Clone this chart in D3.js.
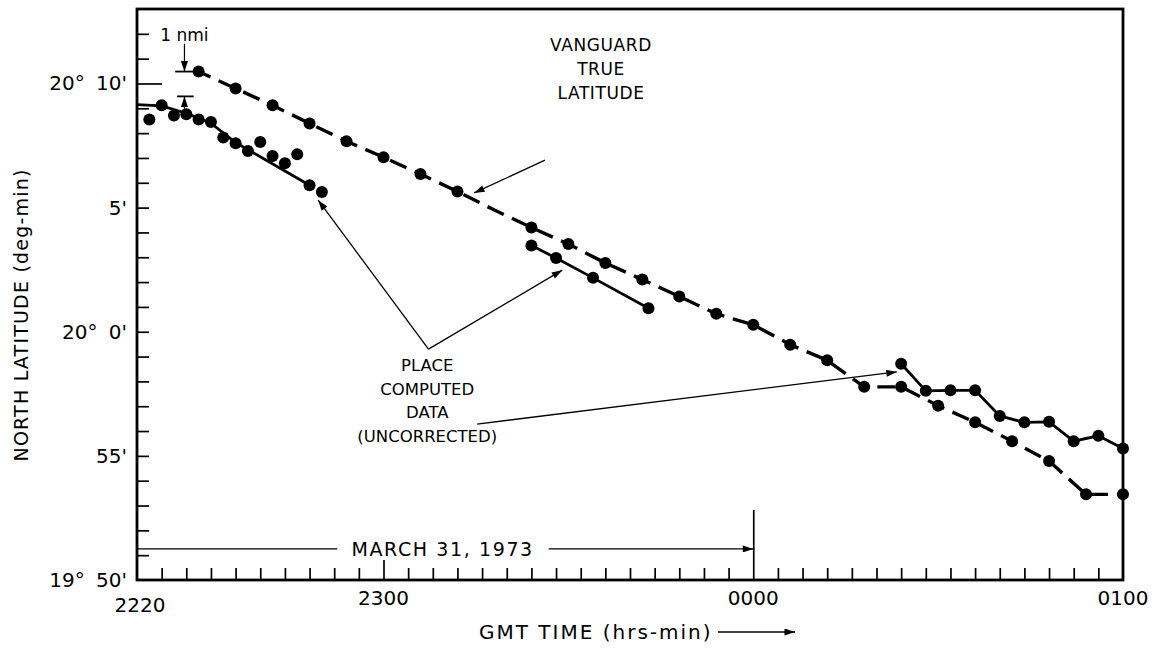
<!DOCTYPE html>
<html>
<head>
<meta charset="utf-8">
<script src="https://cdn.jsdelivr.net/npm/d3@7"></script>
<style>
  body { margin: 0; background: #fff; }
  text { font-family: "DejaVu Sans", sans-serif; fill: #000; }
</style>
</head>
<body>
<svg id="chart" width="1158" height="651"></svg>
<script>
// time = minutes after 2220 GMT, lat = minutes of arc above 20° 00'

// Vanguard true latitude (dashed)
var vanguardTime = [10, 16, 22, 28, 34, 40, 46, 52, 58, 64, 70, 76, 82, 88, 94, 100, 106, 112, 118, 124, 130, 136, 142, 148, 154, 160];
var vanguardLat  = [10.48, 9.80, 9.12, 8.39, 7.67, 7.03, 6.35, 5.65, 4.90, 4.20, 3.53, 2.77, 2.10, 1.42, 0.72, 0.28, -0.52, -1.15, -2.22, -2.22, -2.98, -3.65, -4.41, -5.21, -6.55, -6.55];
var vanguardDot  = [1, 1, 1, 1, 1, 1, 1, 1, 0, 1, 1, 1, 1, 1, 1, 1, 1, 1, 1, 1, 1, 1, 1, 1, 1, 1];

// Place computed data, first pass (scattered points + drawn line)
var clusterTime = [2, 4, 6, 8, 10, 12, 14, 16, 18, 20, 22, 24, 26, 28, 30];
var clusterLat  = [8.55, 9.12, 8.71, 8.76, 8.55, 8.45, 7.82, 7.59, 7.28, 7.64, 7.08, 6.79, 7.15, 5.90, 5.63];
var fitTime = [0, 4, 8, 12, 16, 28];
var fitLat  = [9.15, 9.10, 8.80, 8.40, 7.62, 5.90];

// Place computed data, second pass
var midTime = [64, 68, 74, 83];
var midLat  = [3.47, 2.97, 2.17, 0.95];

// Place computed data, third pass
var rightTime = [124, 128, 132, 136, 140, 144, 148, 152, 156, 160];
var rightLat  = [-1.29, -2.38, -2.36, -2.36, -3.39, -3.65, -3.63, -4.41, -4.19, -4.70];

// axis labels
var xTickValues = [0, 40, 100, 160];
var xTickLabels = ["2220", "2300", "0000", "0100"];
var yTickValues = [10, 5, 0, -5, -10];
var yTickLabels = ["20° 10'", "5'", "20° 0'", "55'", "19° 50'"];

var svg = d3.select("#chart");
var x = d3.scaleLinear().domain([0, 160]).range([137, 1123]);
var y = d3.scaleLinear().domain([-10, 13]).range([580, 9]);

// arrow head
svg.append("defs").append("marker")
    .attr("id", "arrow")
    .attr("viewBox", "0 0 12 8")
    .attr("refX", 12).attr("refY", 4)
    .attr("markerWidth", 12).attr("markerHeight", 7)
    .attr("markerUnits", "userSpaceOnUse")
    .attr("orient", "auto")
  .append("path")
    .attr("d", "M0,0 L12,4 L0,8 Z")
    .attr("fill", "#000");

// frame
svg.append("rect")
    .attr("x", x(0)).attr("y", y(13))
    .attr("width", x(160) - x(0)).attr("height", y(-10) - y(13))
    .attr("fill", "none").attr("stroke", "#000").attr("stroke-width", 2.8);

// bottom ticks every 4 minutes, pointing up
var xAxis = d3.axisTop(x)
    .tickValues(d3.range(4, 160, 4))
    .tickSize(12)
    .tickFormat("");
svg.append("g").attr("transform", "translate(0," + y(-10) + ")").call(xAxis)
    .call(function (g) { g.select(".domain").remove(); })
    .selectAll("line")
      .attr("stroke-width", 1.7)
      .attr("y2", function (d) { return d == 40 ? -20 : (d == 100 ? -70 : -12); });

// left ticks every minute, pointing right
var yAxis = d3.axisRight(y)
    .tickValues(d3.range(-9, 13, 1))
    .tickSize(12)
    .tickFormat("");
svg.append("g").attr("transform", "translate(" + x(0) + ",0)").call(yAxis)
    .call(function (g) { g.select(".domain").remove(); })
    .selectAll("line")
      .attr("stroke-width", 1.7)
      .attr("x2", function (d) { return d == 10 ? 25 : 12; });

// tick labels
svg.selectAll(".xlab")
    .data(xTickValues)
    .enter().append("text")
      .attr("x", function (d, i) { return x(d) + (i == 0 ? 3 : 0); })
      .attr("y", function (d, i) { return i == 0 ? 612 : 605; })
      .attr("text-anchor", "middle")
      .style("font-size", "20px")
      .text(function (d, i) { return xTickLabels[i]; });

svg.selectAll(".ylab")
    .data(yTickValues)
    .enter().append("text")
      .attr("x", x(0) - 10)
      .attr("y", function (d) { return y(d) + 7; })
      .attr("text-anchor", "end")
      .style("font-size", "20px")
      .style("word-spacing", "5px")
      .text(function (d, i) { return yTickLabels[i]; });

// axis titles
svg.append("text")
    .attr("transform", "translate(28,315) rotate(-90)")
    .attr("text-anchor", "middle")
    .style("font-size", "19px")
    .style("letter-spacing", "1.2px")
    .text("NORTH LATITUDE (deg-min)");

svg.append("text")
    .attr("x", 479).attr("y", 639)
    .style("font-size", "20px")
    .style("letter-spacing", "2px")
    .text("GMT TIME (hrs-min)");
svg.append("line")
    .attr("x1", 718).attr("y1", 632).attr("x2", 795).attr("y2", 632)
    .attr("stroke", "#000").attr("stroke-width", 1.4)
    .attr("marker-end", "url(#arrow)");

// date bar
var dateY = y(-8.75);
svg.append("line")
    .attr("x1", x(0)).attr("x2", x(32.5))
    .attr("y1", dateY).attr("y2", dateY)
    .attr("stroke", "#000").attr("stroke-width", 1.3);
svg.append("text")
    .attr("x", x(49.6)).attr("y", dateY + 7)
    .attr("text-anchor", "middle")
    .style("font-size", "19px")
    .style("letter-spacing", "1.6px")
    .text("MARCH 31, 1973");
svg.append("line")
    .attr("x1", x(66.8)).attr("x2", x(100))
    .attr("y1", dateY).attr("y2", dateY)
    .attr("stroke", "#000").attr("stroke-width", 1.3)
    .attr("marker-end", "url(#arrow)");

// lines
var line = d3.line()
    .x(function (d) { return x(d[0]); })
    .y(function (d) { return y(d[1]); });

svg.append("path")
    .attr("d", line(d3.zip(vanguardTime, vanguardLat)))
    .attr("fill", "none").attr("stroke", "#000")
    .attr("stroke-width", 3.4)
    .attr("stroke-dasharray", "18,9")
    .attr("stroke-dashoffset", 5);

svg.append("path")
    .attr("d", line(d3.zip(fitTime, fitLat)))
    .attr("fill", "none").attr("stroke", "#000").attr("stroke-width", 2.8);

svg.append("path")
    .attr("d", line(d3.zip(midTime, midLat)))
    .attr("fill", "none").attr("stroke", "#000").attr("stroke-width", 2.8);

svg.append("path")
    .attr("d", line(d3.zip(rightTime, rightLat)))
    .attr("fill", "none").attr("stroke", "#000").attr("stroke-width", 2.8);

// dots
function dots(times, lats, keep) {
  svg.append("g").selectAll("circle")
      .data(d3.zip(times, lats).filter(function (d, i) { return !keep || keep[i]; }))
      .enter().append("circle")
        .attr("cx", function (d) { return x(d[0]); })
        .attr("cy", function (d) { return y(d[1]); })
        .attr("r", 6)
        .attr("fill", "#000");
}
dots(vanguardTime, vanguardLat, vanguardDot);
dots(clusterTime, clusterLat);
dots(midTime, midLat);
dots(rightTime, rightLat);

// 1 nmi marker
function seg(t1, l1, t2, l2, w, arrow) {
  var s = svg.append("line")
      .attr("x1", x(t1)).attr("y1", y(l1))
      .attr("x2", x(t2)).attr("y2", y(l2))
      .attr("stroke", "#000").attr("stroke-width", w);
  if (arrow) s.attr("marker-end", "url(#arrow)");
}
seg(6.2, vanguardLat[0], 9.6, vanguardLat[0], 1.8);
seg(6.5, vanguardLat[0] - 1, 9.2, vanguardLat[0] - 1, 1.8);
seg(7.7, 11.6, 7.7, vanguardLat[0], 1.2, true);
seg(7.7, vanguardLat[0] - 1.5, 7.7, vanguardLat[0] - 1, 1.2, true);
svg.append("text")
    .attr("x", x(7.7)).attr("y", 41)
    .attr("text-anchor", "middle")
    .style("font-size", "17px")
    .text("1 nmi");

// annotations
var vanguardNote = ["VANGUARD", "TRUE", "LATITUDE"];
svg.selectAll(".vnote")
    .data(vanguardNote)
    .enter().append("text")
      .attr("x", x(75.3))
      .attr("y", function (d, i) { return 51 + i * 24; })
      .attr("text-anchor", "middle")
      .style("font-size", "17px")
      .style("letter-spacing", "0.6px")
      .text(function (d) { return d; });
seg(66.2, 6.91, 54.7, 5.59, 1.3, true);

var placeNote = ["PLACE", "COMPUTED", "DATA", "(UNCORRECTED)"];
svg.selectAll(".pnote")
    .data(placeNote)
    .enter().append("text")
      .attr("x", x(47.1))
      .attr("y", function (d, i) { return 371 + i * 23.5; })
      .attr("text-anchor", "middle")
      .style("font-size", "16.5px")
      .text(function (d) { return d; });
seg(47.3, -0.70, 29.4, 5.30, 1.3, true);
seg(47.3, -0.70, 69.0, 2.48, 1.3, true);
seg(55.2, -3.72, 123.3, -1.62, 1.3, true);
</script>
</body>
</html>
